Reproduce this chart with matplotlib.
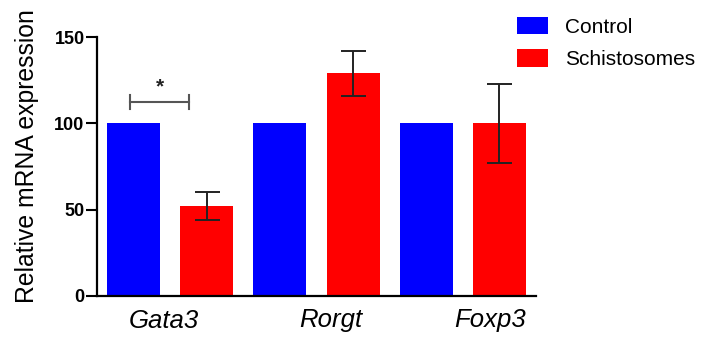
import matplotlib
matplotlib.use("Agg")
import matplotlib.pyplot as plt
import numpy as np

plt.rcParams['font.family'] = ['Liberation Sans', 'DejaVu Sans']

genes = ["Gata3", "Rorgt", "Foxp3"]
series = ["Control", "Schistosomes"]
control_mean = [100, 100, 100]
schisto_mean = [52, 129, 100]
schisto_err = [8, 13, 23]
yticks = [0, 50, 100, 150]
sig_label = "*"

colors = {"Control": "#0000ff", "Schistosomes": "#ff0000"}

fig = plt.figure(figsize=(7.10, 3.39), dpi=100)
ax = fig.add_axes([97/710, 1-296/339, (536-97)/710, (296-37)/339])

n = len(genes)
xc = np.arange(n) * 2
xs = xc + 1
w = 0.726
ax.bar(xc, control_mean, width=w, color=colors["Control"], label="Control", zorder=2)
ax.bar(xs, schisto_mean, width=w, color=colors["Schistosomes"], label="Schistosomes", zorder=2)
ax.errorbar(xs, schisto_mean, yerr=schisto_err, fmt='none', ecolor='#222222',
            elinewidth=1.4, capsize=9, capthick=1.4, zorder=3)

# significance bracket
bx0, bx1, by = -0.05, 0.76, 112.5
ax.plot([bx0, bx1], [by, by], color='#555555', lw=1.5, zorder=3)
ax.plot([bx0, bx0], [by-4, by+4], color='#555555', lw=1.5, zorder=3)
ax.plot([bx1, bx1], [by-4, by+4], color='#555555', lw=1.5, zorder=3)
ax.text((bx0+bx1)/2, by+3, sig_label, ha='center', va='bottom', fontsize=15,
        fontweight='bold', color='#222222')

ax.set_xlim(-0.5, 5.5)
ax.set_ylim(0, 150)
ax.set_yticks(yticks)
ax.set_yticklabels([str(t) for t in yticks], fontsize=13, fontweight='bold')
ax.set_xticks([0.42, 2.7, 4.87])
ax.set_xticklabels(genes, fontsize=18.5, fontstyle='italic')
ax.tick_params(axis='x', length=0, pad=9)
ax.tick_params(axis='y', length=8, width=1.5, pad=1)
for s in ['top', 'right']:
    ax.spines[s].set_visible(False)
for s in ['left', 'bottom']:
    ax.spines[s].set_linewidth(1.6)
ax.set_ylabel("Relative mRNA expression", fontsize=17.8)
ax.yaxis.label.set_verticalalignment('center')
ax.yaxis.set_label_coords((27-97)/439, (296-156)/259)

leg = ax.legend(loc='upper left', bbox_to_anchor=(517/710, 1-17/339),
                bbox_transform=fig.transFigure, frameon=False, fontsize=15,
                handlelength=1.5, handleheight=0.9, handletextpad=0.8,
                labelspacing=0.6, borderpad=0, borderaxespad=0)

fig.savefig("out.png", dpi=100)
